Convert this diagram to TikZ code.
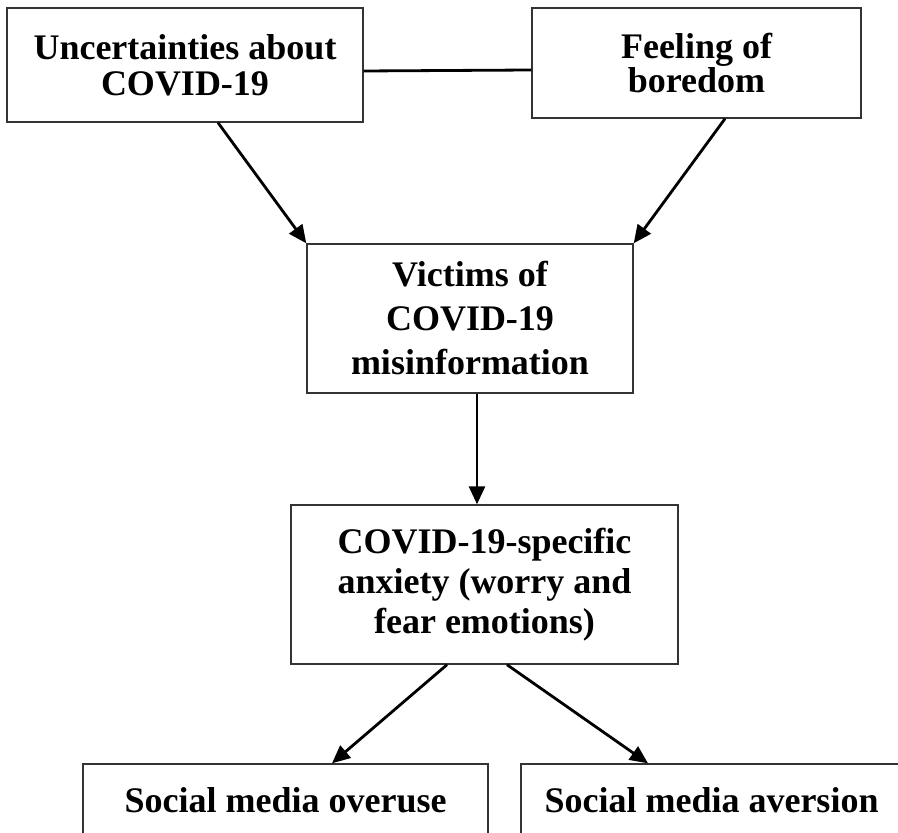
\documentclass[tikz,border=0pt]{standalone}
\usepackage{fontspec}
\setmainfont{Liberation Serif}
\usetikzlibrary{arrows.meta}

\begin{document}
\begin{tikzpicture}[x=0.5pt,y=-0.5pt,
  factor/.style={draw=black!80,line width=0.7pt,inner sep=0pt,align=center,
    font=\bfseries\fontsize{18}{18}\selectfont},
  link/.style={line width=1.4pt,-{Triangle[length=9pt,width=8pt]}}]
\useasboundingbox (0,0) rectangle (898,833);
\clip (0,0) rectangle (898,833);

\node[factor,minimum width=178pt,minimum height=57pt] (uncert) at (185,65)
  {Uncertainties about\\COVID-19};
\node[factor,minimum width=164.5pt,minimum height=55pt,
  font=\bfseries\fontsize{18}{17}\selectfont] (bored) at (696.5,63)
  {Feeling of\\boredom};
\node[factor,minimum width=163pt,minimum height=74.5pt,
  font=\bfseries\fontsize{18}{22}\selectfont] (victim) at (470,318.5)
  {Victims of\\COVID-19\\misinformation};
\node[factor,minimum width=193.5pt,minimum height=79.5pt,
  font=\bfseries\fontsize{18}{20}\selectfont] (anxiety) at (484.5,584.5)
  {COVID-19-specific\\anxiety (worry and\\fear emotions)};
\node[factor,minimum width=202.5pt,minimum height=36pt] (overuse) at (285.5,800)
  {Social media overuse};
\node[factor,minimum width=190.5pt,minimum height=36pt] (aversion) at (711.5,800)
  {Social media aversion};

\draw[line width=1.4pt] ([yshift=-3pt]uncert.east) -- ([yshift=-3.5pt]bored.west);
\draw[link] ([xshift=16.5pt]uncert.south) -- (victim.north west);
\draw[link] ([xshift=14.25pt]bored.south) -- (victim.north east);
\draw[link] ([xshift=3.5pt]victim.south) -- ([xshift=3.5pt]victim.south |- anxiety.north);
\draw[link] ([xshift=-18.75pt]anxiety.south) -- ([xshift=23.25pt]overuse.north);
\draw[link] ([xshift=11.25pt]anxiety.south) -- ([xshift=-31.75pt]aversion.north);
\end{tikzpicture}
\end{document}
